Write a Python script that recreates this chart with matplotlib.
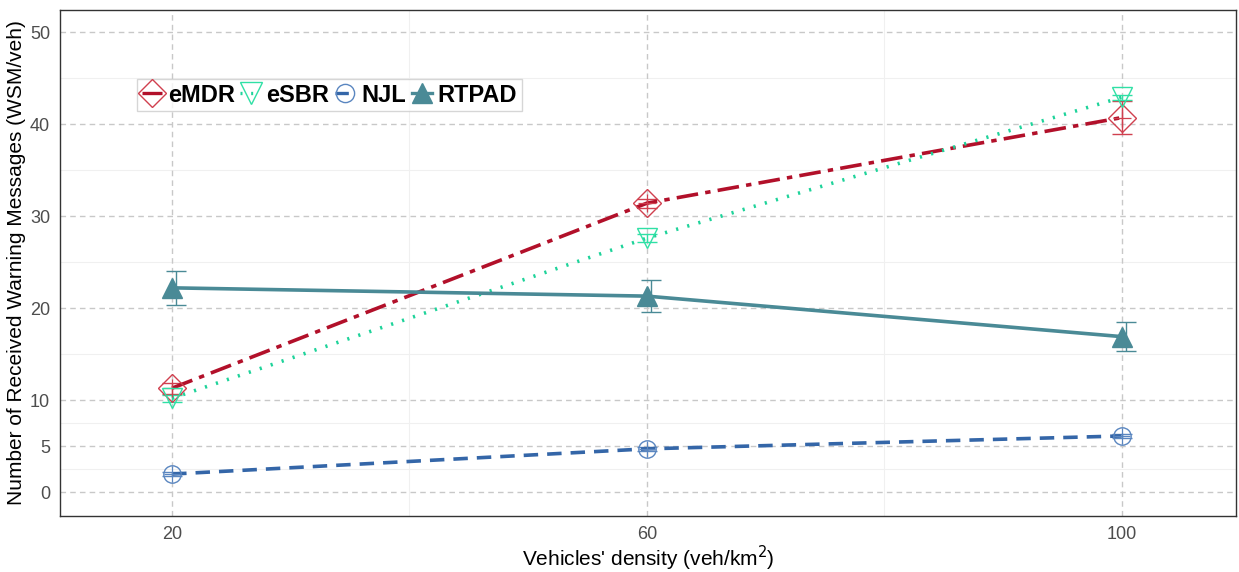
import matplotlib
matplotlib.use("Agg")
import matplotlib.pyplot as plt
from matplotlib.lines import Line2D

plt.rcParams["font.family"] = ["Liberation Sans", "DejaVu Sans"]

density = [20, 60, 100]
series = ["eMDR", "eSBR", "NJL", "RTPAD"]
emdr = [11.3, 31.4, 40.7]
emdr_err = [0.6, 0.5, 1.8]
esbr = [10.2, 27.6, 42.9]
esbr_err = [0.4, 0.4, 0.3]
njl = [1.96, 4.7, 6.1]
njl_err = [0.2, 0.2, 0.2]
rtpad = [22.2, 21.3, 16.9]
rtpad_err = [1.85, 1.7, 1.6]

values = [emdr, esbr, njl, rtpad]
errors = [emdr_err, esbr_err, njl_err, rtpad_err]
line_colors = ["#B2102A", "#1ED39A", "#3466A8", "#4A8A96"]
marker_colors = ["#D0404F", "#2FE0A5", "#5A86C0", "#4A8A96"]
linestyles = [(0, (6, 2, 1.5, 2)), (0, (0.6, 2.6)), (0, (4, 2.5)), "-"]
markers = ["D", "v", "o", "^"]
fills = ["none", "none", "none", "full"]
msizes = [14, 15, 12.5, 14]
dodge = [0.0, 0.0, 0.0, 0.35]

fig = plt.figure(figsize=(12.39, 5.72), dpi=100)
ax = fig.add_axes([0.0484, 0.0979, 0.9492, 0.8846])

ax.set_xlim(10.55, 109.65)
ax.set_ylim(-2.6, 52.4)

for xm in [40, 80]:
    ax.axvline(xm, color="#F0F0F0", lw=0.8, zorder=0)
for ym in [2.5, 7.5, 15, 25, 35, 45]:
    ax.axhline(ym, color="#F0F0F0", lw=0.8, zorder=0)
for xm in density:
    ax.axvline(xm, color="#C8C8C8", lw=1.0, ls=(0, (4, 3)), zorder=0)
for ym in [0, 5, 10, 20, 30, 40, 50]:
    ax.axhline(ym, color="#C8C8C8", lw=1.0, ls=(0, (4, 3)), zorder=0)

handles = []
for i, name in enumerate(series):
    xs = [x + dodge[i] for x in density]
    ax.errorbar(xs, values[i], yerr=errors[i], fmt="none",
                ecolor=marker_colors[i], elinewidth=1.0, capsize=7,
                capthick=1.0, zorder=2)
    ax.plot(density, values[i], color=line_colors[i], lw=2.6,
            ls=linestyles[i], zorder=3)
    mfc = "none" if fills[i] == "none" else marker_colors[i]
    ax.plot(density, values[i], ls="none", marker=markers[i],
            ms=msizes[i], mfc=mfc, mec=marker_colors[i], mew=1.0, zorder=4)
    if markers[i] in ("D", "o"):
        ax.plot(density, values[i], ls="none", marker="+",
                ms=msizes[i] * 0.95, mec=marker_colors[i], mew=0.9, zorder=4)
    h = Line2D([0], [0], color=line_colors[i], lw=2.4, ls=linestyles[i],
               marker=markers[i], ms=msizes[i] * 1.05, mfc=mfc,
               mec=marker_colors[i], mew=1.0)
    handles.append(h)

ax.set_xticks(density)
ax.set_xticklabels([str(d) for d in density])
ax.set_yticks([0, 5, 10, 20, 30, 40, 50])
ax.tick_params(axis="both", labelsize=13, labelcolor="#4D4D4D",
               length=0, pad=7)
for s in ax.spines.values():
    s.set_color("#333333")
    s.set_linewidth(1.0)

ax.set_xlabel("Vehicles' density (veh/km$^2$)", fontsize=15, labelpad=1)
ax.set_ylabel("Number of Received Warning Messages (WSM/veh)", fontsize=15,
              labelpad=3)

leg = ax.legend(handles, series, loc="upper left", ncol=4,
                bbox_to_anchor=(0.0655, 0.864), frameon=True,
                prop={"weight": "bold", "size": 17},
                handlelength=0.85, handletextpad=0.25, columnspacing=0.25,
                borderpad=0.2, borderaxespad=0.0, fancybox=False)
leg.get_frame().set_edgecolor("#CCCCCC")
leg.get_frame().set_linewidth(1.0)

fig.savefig("out.png", dpi=100)
